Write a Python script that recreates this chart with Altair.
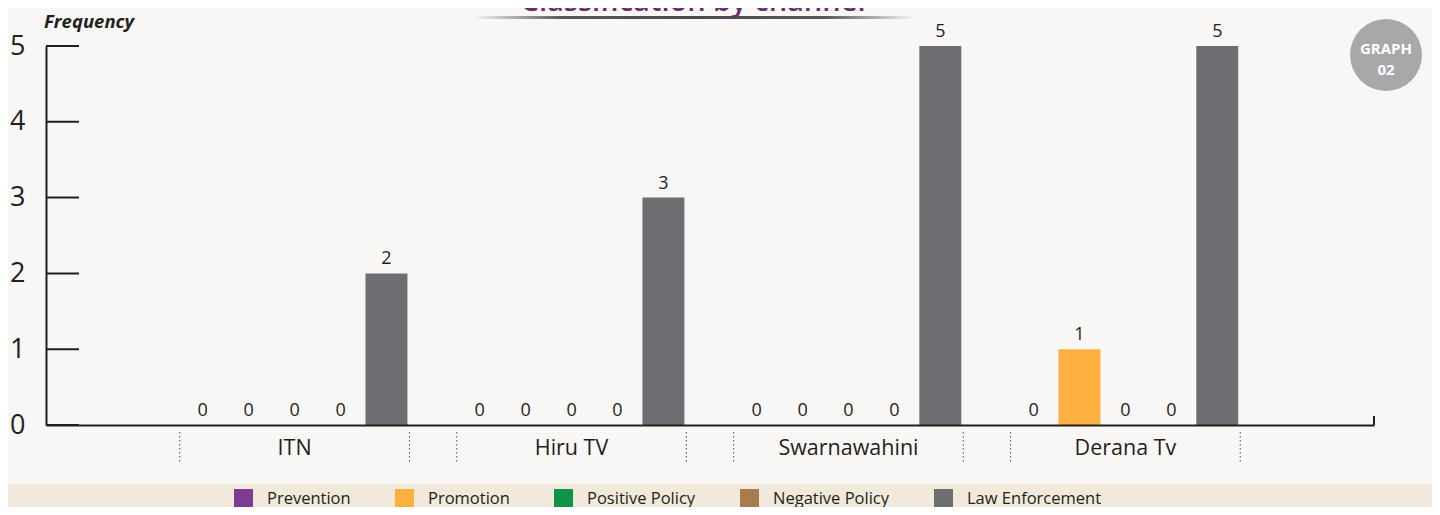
import altair as alt
import pandas as pd

# ---- data ----
channels = ["ITN", "Hiru TV", "Swarnawahini", "Derana Tv"]
categories = ["Prevention", "Promotion", "Positive Policy", "Negative Policy", "Law Enforcement"]
colors = ["#7d3c92", "#fbb040", "#0f9447", "#a97c50", "#6d6e71"]
prevention = [0, 0, 0, 0]
promotion = [0, 0, 0, 1]
positive_policy = [0, 0, 0, 0]
negative_policy = [0, 0, 0, 0]
law_enforcement = [2, 3, 5, 5]
y_ticks = [0, 1, 2, 3, 4, 5]
title_text = "Classification by channel"
y_title = "Frequency"
badge_lines = ["GRAPH", "02"]

series = [prevention, promotion, positive_policy, negative_policy, law_enforcement]
rows = []
for cat, vals in zip(categories, series):
    for ch, v in zip(channels, vals):
        rows.append({"channel": ch, "category": cat, "value": v})
df = pd.DataFrame(rows)

FONT = "Open Sans"
INK = "#231f20"
BG = "#f8f7f5"
W, H = 1328, 379

x_scale = alt.Scale(domain=channels, paddingInner=0.1706, paddingOuter=0.483)
y_scale = alt.Scale(domain=[0, 5], nice=False)
x_axis = alt.Axis(title=None, ticks=False, labelAngle=0, labelFontSize=21.5, labelPadding=12,
                  labelColor=INK, labelFont=FONT, domainColor=INK, domainWidth=2, zindex=1)
y_axis = alt.Axis(title=None, values=y_ticks, tickSize=0, labelPadding=21, labelFontSize=27,
                  labelColor=INK, labelFont=FONT, domainColor=INK, domainWidth=2, grid=False,
                  labelFlush=False, format="d", zindex=1)


def xenc(band=None):
    if band is None:
        return alt.X("channel:N", sort=channels, scale=x_scale, axis=x_axis)
    return alt.X("channel:N", sort=channels, scale=x_scale, axis=x_axis, bandPosition=band)


xoff = alt.XOffset("category:N", sort=categories,
                   scale=alt.Scale(domain=categories, paddingInner=0.087, paddingOuter=0.0435))
yenc = alt.Y("value:Q", scale=y_scale, axis=y_axis)

one = pd.DataFrame({"k": [0]})

band_bg = alt.Chart(one).mark_rect(color="#f1e9dc").encode(
    x=alt.value(-38), x2=alt.value(1386), y=alt.value(438), y2=alt.value(462))

bars = alt.Chart(df).mark_bar().encode(
    x=xenc(), xOffset=xoff, y=yenc,
    color=alt.Color("category:N", sort=categories,
                    scale=alt.Scale(domain=categories, range=colors),
                    legend=alt.Legend(orient="none", legendX=188, legendY=443, direction="horizontal",
                                      title=None, symbolType="square", symbolSize=361,
                                      symbolStrokeWidth=0, symbolOpacity=1, labelFontSize=16.5,
                                      labelFont=FONT, labelColor=INK, labelOffset=14,
                                      columnPadding=44, padding=0)))

labels = alt.Chart(df).mark_text(baseline="alphabetic", dy=-9, fontSize=18, font=FONT, color=INK).encode(
    x=xenc(), xOffset=xoff, y=yenc, text="value:Q")

tick_df = pd.DataFrame({"value": y_ticks})
yticks = alt.Chart(tick_df).mark_rule(color=INK, strokeWidth=2).encode(
    y=yenc, x=alt.value(0), x2=alt.value(33))

ch_df = pd.DataFrame({"channel": channels})
sep_left = alt.Chart(ch_df).mark_rule(color="#555555", strokeWidth=1, strokeDash=[1.5, 2.5]).encode(
    x=xenc(0), y=alt.value(386), y2=alt.value(416))
sep_right = alt.Chart(ch_df).mark_rule(color="#555555", strokeWidth=1, strokeDash=[1.5, 2.5]).encode(
    x=xenc(1), y=alt.value(386), y2=alt.value(416))

end_tick = alt.Chart(one).mark_rule(color=INK, strokeWidth=2).encode(
    x=alt.value(W), y=alt.value(H - 9), y2=alt.value(H))

freq = alt.Chart(one).mark_text(text=y_title, font=FONT, fontSize=18.5, fontStyle="italic",
                                fontWeight="bold", color=INK, align="left", baseline="alphabetic").encode(
    x=alt.value(-2), y=alt.value(-18))

title = alt.Chart(one).mark_text(text=title_text, font=FONT, fontSize=29, fontWeight=600,
                                 color="#6b2c6e", align="center", baseline="alphabetic").encode(
    x=alt.value(647), y=alt.value(-35))

shadow = alt.Chart(one).mark_rect(
    color=alt.LinearGradient(gradient="linear", x1=0, x2=1, y1=0, y2=0,
                             stops=[alt.GradientStop(color=BG, offset=0),
                                    alt.GradientStop(color="#5a5a5a", offset=0.2),
                                    alt.GradientStop(color="#4a4a4a", offset=0.5),
                                    alt.GradientStop(color="#5a5a5a", offset=0.8),
                                    alt.GradientStop(color=BG, offset=1)])).encode(
    x=alt.value(427), x2=alt.value(869), y=alt.value(-30), y2=alt.value(-27))

badge = alt.Chart(one).mark_point(shape="circle", filled=True, size=5184, color="#a7a8aa", opacity=1).encode(
    x=alt.value(1340), y=alt.value(9))
badge_t1 = alt.Chart(one).mark_text(text=badge_lines[0], font=FONT, fontSize=15, fontWeight="bold",
                                    color="white", baseline="middle").encode(x=alt.value(1340), y=alt.value(3))
badge_t2 = alt.Chart(one).mark_text(text=badge_lines[1], font=FONT, fontSize=15, fontWeight="bold",
                                    color="white", baseline="middle").encode(x=alt.value(1340), y=alt.value(24))

chart = alt.layer(band_bg, sep_left, sep_right, bars, labels, yticks, end_tick, freq, shadow, title,
                  badge, badge_t1, badge_t2).properties(
    width=W, height=H,
    padding={"left": 38, "top": 38, "right": 58, "bottom": 82},
    autosize=alt.AutoSizeParams(type="none"),
).configure(background=BG).configure_view(stroke=None)

chart.save("out.html", embed_options={"renderer": "svg", "actions": False})
